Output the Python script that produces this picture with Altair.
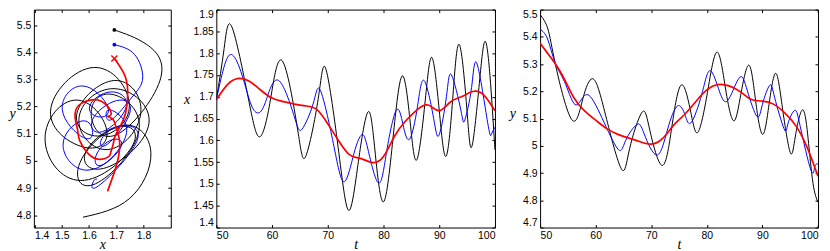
import altair as alt
import pandas as pd

# ---- series: time t, position x, position y ----
t_black = [50.0, 51.4, 52.8, 55.7, 57.7, 59.6, 61.8, 64.6, 66.1, 68.3, 69.7, 72.0, 73.8, 75.5, 77.2, 78.4,
           80.0, 81.8, 83.4, 84.8, 86.0, 87.5, 88.7, 90.0, 91.2, 92.4, 93.6, 95.0, 95.9, 97.2, 98.2, 99.1, 100.0]
x_black = [1.693, 1.811, 1.860, 1.699, 1.608, 1.685, 1.783, 1.624, 1.565, 1.697, 1.762, 1.570, 1.439, 1.552,
           1.665, 1.585, 1.459, 1.617, 1.748, 1.640, 1.556, 1.693, 1.790, 1.669, 1.563, 1.692, 1.820, 1.665,
           1.588, 1.731, 1.827, 1.749, 1.578]
y_black = [5.482, 5.429, 5.295, 5.096, 5.173, 5.245, 5.111, 4.916, 4.989, 5.122, 5.061, 4.928, 5.083, 5.224,
           5.114, 5.050, 5.183, 5.344, 5.205, 5.092, 5.176, 5.296, 5.177, 5.042, 5.154, 5.266, 5.139, 4.976,
           5.032, 5.132, 5.030, 4.862, 4.793]

t_blue = [50.0, 51.35, 52.7, 54.4, 56.1, 57.4, 58.8, 61.1, 64.0, 65.4, 67.4, 68.7, 71.0, 72.9, 74.7, 76.1, 77.2,
          79.1, 80.6, 82.3, 83.5, 84.7, 86.1, 87.3, 89.0, 90.0, 91.3, 92.2, 93.9, 94.6, 95.8, 96.8, 98.7, 99.4, 100.0]
x_blue = [1.693, 1.767, 1.797, 1.758, 1.687, 1.663, 1.687, 1.738, 1.654, 1.626, 1.685, 1.714, 1.593, 1.505,
          1.570, 1.613, 1.580, 1.502, 1.577, 1.669, 1.636, 1.603, 1.678, 1.737, 1.650, 1.613, 1.701, 1.750,
          1.668, 1.647, 1.721, 1.775, 1.640, 1.615, 1.630]
y_blue = [5.428, 5.392, 5.305, 5.235, 5.155, 5.169, 5.185, 5.104, 4.988, 5.020, 5.078, 5.045, 4.966, 5.058,
          5.146, 5.112, 5.086, 5.190, 5.276, 5.198, 5.162, 5.203, 5.254, 5.201, 5.108, 5.152, 5.222, 5.177,
          5.062, 5.082, 5.130, 5.071, 4.912, 4.922, 4.933]

t_red = [50, 52, 54, 56, 58, 60, 62, 64, 66, 68, 70, 72, 74, 76, 78, 80, 82, 84, 86, 88, 90, 92, 94, 96, 98, 100]
x_red = [1.693, 1.728, 1.742, 1.735, 1.715, 1.697, 1.689, 1.683, 1.679, 1.671, 1.638, 1.598, 1.566, 1.558,
         1.549, 1.563, 1.610, 1.645, 1.670, 1.681, 1.668, 1.688, 1.700, 1.712, 1.704, 1.668]
y_red = [5.377, 5.322, 5.259, 5.179, 5.128, 5.094, 5.063, 5.042, 5.028, 5.015, 5.006, 5.026, 5.075, 5.115,
         5.162, 5.205, 5.225, 5.220, 5.199, 5.170, 5.164, 5.153, 5.121, 5.074, 4.996, 4.888]

# ---- tick values ----
traj_x_ticks = [1.4, 1.5, 1.6, 1.7, 1.8]
traj_y_ticks = [4.8, 4.9, 5.0, 5.1, 5.2, 5.3, 5.4, 5.5]
xt_ticks = [1.4, 1.45, 1.5, 1.55, 1.6, 1.65, 1.7, 1.75, 1.8, 1.85, 1.9]
yt_ticks = [4.7, 4.8, 4.9, 5.0, 5.1, 5.2, 5.3, 5.4, 5.5]
t_ticks = [50, 60, 70, 80, 90, 100]

series_info = [
    ("black", t_black, x_black, y_black, "#000000", 1.0),
    ("blue", t_blue, x_blue, y_blue, "#0000ff", 1.0),
    ("red", t_red, x_red, y_red, "#ff0000", 1.7),
]
frames = {name: pd.DataFrame({"t": t, "x": x, "y": y}) for name, t, x, y, _, _ in series_info}
starts = pd.DataFrame({
    "series": [s[0] for s in series_info],
    "x": [s[2][0] for s in series_info],
    "y": [s[3][0] for s in series_info],
})

H = 219
TITLE = dict(titleFont="Liberation Serif", titleFontStyle="italic", titleFontWeight="normal",
             titleFontSize=14, titleColor="black", titleAngle=0, titleAlign="center",
             titleBaseline="alphabetic")
TICK = dict(grid=False, domain=False, offset=-3, tickSize=3, tickColor="black", tickWidth=1)


def panel(xf, yf, xdom, ydom, xticks, yticks, w, xtitle, ytitle, ytx, yty, xfmt, interp, with_starts=False):
    xs = alt.Scale(domain=xdom, nice=False, zero=False)
    ys = alt.Scale(domain=ydom, nice=False, zero=False)
    xaxis = alt.Axis(orient="bottom", values=xticks, format=xfmt, labelPadding=3, title=xtitle,
                     titleX=w / 2, titleY=24, **TICK, **TITLE)
    yaxis = alt.Axis(orient="left", values=yticks, format="~g", labelPadding=3, labelFlush=True,
                     title=ytitle, titleX=ytx, titleY=yty, **TICK, **TITLE)
    layers = []
    for i, (name, _, _, _, color, sw) in enumerate(series_info):
        layers.append(
            alt.Chart(frames[name]).mark_line(color=color, strokeWidth=sw, interpolate=interp, clip=True).encode(
                x=alt.X(f"{xf}:Q", scale=xs, axis=xaxis if i == 0 else None),
                y=alt.Y(f"{yf}:Q", scale=ys, axis=yaxis if i == 0 else None),
                order=alt.Order("t:Q"),
            )
        )
    if with_starts:
        dots = starts[starts.series != "red"]
        layers.append(
            alt.Chart(dots).mark_point(filled=True, size=14, opacity=1).encode(
                x=alt.X("x:Q", scale=xs, axis=None),
                y=alt.Y("y:Q", scale=ys, axis=None),
                color=alt.Color("series:N", scale=alt.Scale(domain=["black", "blue"],
                                                            range=["#000000", "#0000ff"]), legend=None),
            )
        )
        cross = starts[starts.series == "red"]
        layers.append(
            alt.Chart(cross).mark_point(filled=False, size=36, shape="M-1,-1L1,1M-1,1L1,-1",
                                        color="#ff0000", strokeWidth=1.5, opacity=1).encode(
                x=alt.X("x:Q", scale=xs, axis=None),
                y=alt.Y("y:Q", scale=ys, axis=None),
            )
        )
    # mirrored inward ticks on top and right edges
    layers.append(
        alt.Chart(frames["black"]).mark_point(opacity=0).encode(
            x=alt.X(f"{xf}:Q", scale=xs,
                    axis=alt.Axis(orient="top", values=xticks, labels=False, title=None, **TICK)),
            y=alt.Y(f"{yf}:Q", scale=ys,
                    axis=alt.Axis(orient="right", values=yticks, labels=False, title=None, **TICK)),
        )
    )
    return alt.layer(*layers).resolve_axis(x="independent", y="independent").properties(width=w, height=H)


p1 = panel("x", "y", [1.398, 1.9], [4.755, 5.557], traj_x_ticks, traj_y_ticks, 137.6, "x", "y",
           -25, 108, "~g", "natural", with_starts=True)
p2 = panel("t", "x", [50, 100], [1.4, 1.9], t_ticks, xt_ticks, 280, "t", "x", -33, 94, "d", "natural")
p3 = panel("t", "y", [50, 100], [4.7, 5.5], t_ticks, yt_ticks, 279.3, "t", "y", -31, 108, "d", "natural")

chart = alt.hconcat(p1, p2, p3, spacing=45.35, bounds="flush").properties(
    padding=0, background="white"
).configure_view(stroke="black", strokeWidth=1).configure_axis(
    labelFont="Liberation Sans", labelFontSize=10.5, labelColor="black"
)

chart.save("out.html", embed_options={"renderer": "svg", "actions": False})
